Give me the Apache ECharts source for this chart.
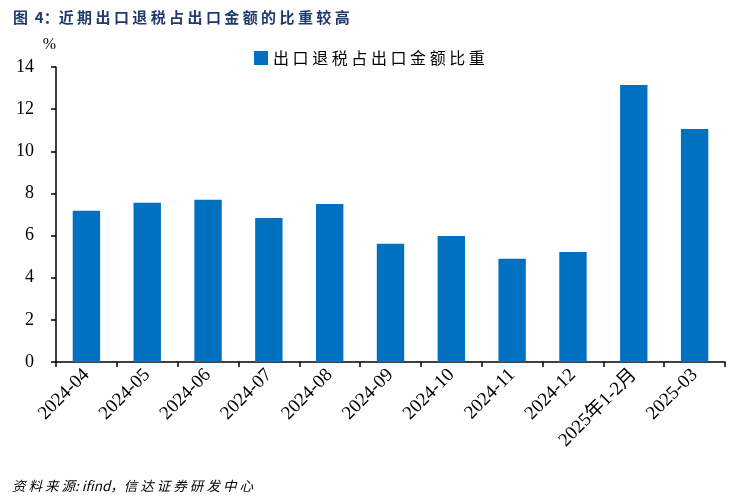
<!DOCTYPE html>
<html>
<head>
<meta charset="utf-8">
<script src="https://cdn.jsdelivr.net/npm/echarts@6/dist/echarts.min.js"></script>
<style>
  html, body { margin: 0; padding: 0; background: #fff; }
  #chart { width: 731px; height: 498px; }
</style>
</head>
<body>
<div id="chart"></div>
<script>
// 数据
const categories = ['2024-04', '2024-05', '2024-06', '2024-07', '2024-08', '2024-09',
                    '2024-10', '2024-11', '2024-12', '2025年1-2月', '2025-03'];
const ratioValues = [7.18, 7.56, 7.70, 6.83, 7.50, 5.61, 5.98, 4.90, 5.22, 13.15, 11.06];
const yTicks = [0, 2, 4, 6, 8, 10, 12, 14];
const seriesName = '出口退税占出口金额比重';

const serif = '"Liberation Serif", "Times New Roman", "Noto Sans CJK SC", serif';
const cjk = '"Noto Sans CJK SC", sans-serif';

// 中文字符之间加空格，模拟原图较宽的字距
function spaced(s) {
    return s.split('').join(' ');
}

const myChart = echarts.init(document.getElementById('chart'));

const option = {
    animation: false,
    title: [{
        text: '图  4：' + spaced('近期出口退税占出口金额的比重较高'),
        left: 8, top: 5,
        textStyle: { fontFamily: cjk, fontSize: 15, fontWeight: 'bold', color: '#1F3A6E' }
    }, {
        text: spaced('资料来源') + ': ifind，' + spaced('信达证券研发中心'),
        left: 7, top: 474,
        textStyle: { fontFamily: cjk, fontSize: 13.5, fontWeight: 'normal', fontStyle: 'italic', color: '#000' }
    }],
    legend: {
        left: 249, top: 45,
        itemWidth: 14, itemHeight: 14,
        icon: 'rect',
        itemGap: 4,
        textStyle: { fontFamily: cjk, fontSize: 16, color: '#000' },
        formatter: function(name) { return spaced(name); },
        data: [seriesName]
    },
    grid: { left: 56, right: 6, top: 67, bottom: 136, containLabel: false },
    xAxis: {
        type: 'category',
        data: categories,
        axisLine: { lineStyle: { color: '#000', width: 1.5 } },
        axisTick: { show: true, alignWithLabel: false, length: 5, lineStyle: { color: '#000', width: 1.5 } },
        axisLabel: {
            interval: 0, rotate: 45, margin: 10,
            fontFamily: serif, fontSize: 19, color: '#000'
        }
    },
    yAxis: {
        type: 'value',
        min: yTicks[0], max: yTicks[yTicks.length - 1], interval: 2,
        name: '%',
        nameLocation: 'end',
        nameGap: 14,
        nameTextStyle: { fontFamily: serif, fontSize: 16, color: '#000', align: 'right' },
        axisLine: { show: true, lineStyle: { color: '#000', width: 1.5 } },
        axisTick: { show: true, length: 5, lineStyle: { color: '#000', width: 1.5 } },
        splitLine: { show: false },
        axisLabel: { margin: 22, fontFamily: serif, fontSize: 18, color: '#000' }
    },
    series: [{
        name: seriesName,
        type: 'bar',
        data: ratioValues,
        barWidth: '45%',
        itemStyle: { color: '#0070C0' }
    }]
};

myChart.setOption(option);
</script>
</body>
</html>
